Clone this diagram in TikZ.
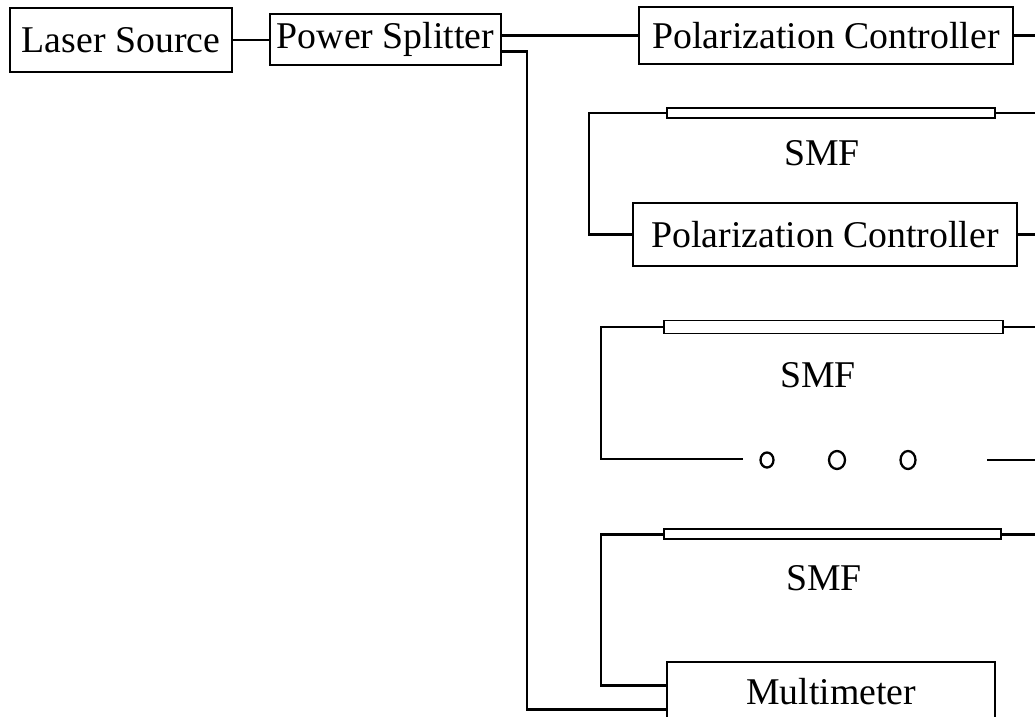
\documentclass[tikz,border=0pt]{standalone}
\usepackage{fontspec}
\setmainfont{Liberation Serif}
\usepackage{tikz}
\usetikzlibrary{positioning, shapes.geometric}

\begin{document}
\begin{tikzpicture}[x=0.02cm, y=-0.02cm,
    box/.style={draw, line width=1.2pt, rectangle, inner sep=0pt,
        font=\fontsize{21.5}{26}\selectfont},
    tube/.style={draw, line width=1.1pt, rectangle, inner sep=0pt},
    lbl/.style={font=\fontsize{21.5}{26}\selectfont},
    fibre/.style={line width=1.7pt},
    dotring/.style={line width=1.3pt}]
    \useasboundingbox (0,0) rectangle (1035,717);
    \clip (0,0) rectangle (1035,717);

    % source side
    \node[box, minimum width=4.44cm, minimum height=1.28cm] (laser) at (121,40) {Laser Source};
    \node[box, minimum width=4.62cm, minimum height=1.02cm] (split) at (385.5,39.5) {Power Splitter};

    % right column
    \node[box, minimum width=7.48cm, minimum height=1.14cm] (pc1) at (826,35.5) {Polarization Controller};
    \node[tube, minimum width=6.56cm, minimum height=0.2cm] (tube1) at (831,113) {};
    \node[lbl] (smf1) at (822,153) {SMF};
    \node[box, minimum width=7.68cm, minimum height=1.26cm] (pc2) at (825,234.5) {Polarization Controller};
    \node[tube, minimum width=6.78cm, minimum height=0.26cm] (tube2) at (833.5,327) {};
    \node[lbl] (smf2) at (818,375) {SMF};
    \node[tube, minimum width=6.74cm, minimum height=0.2cm] (tube3) at (832.5,534) {};
    \node[lbl] (smf3) at (824,578) {SMF};
    \node[box, minimum width=6.56cm, minimum height=1.2cm] (meter) at (831,692) {Multimeter};

    % dots between the stages
    \node[draw, dotring, ellipse, minimum width=0.26cm, minimum height=0.3cm, inner sep=0pt] (dot1) at (767,460) {};
    \node[draw, dotring, ellipse, minimum width=0.32cm, minimum height=0.36cm, inner sep=0pt] (dot2) at (837,460) {};
    \node[draw, dotring, ellipse, minimum width=0.3cm, minimum height=0.36cm, inner sep=0pt] (dot3) at (908,460) {};

    \coordinate (edge) at (1040,0);
    \coordinate (trunk) at (527,400);
    \coordinate (bus1) at (589,0);
    \coordinate (bus) at (601,0);
    \coordinate (gapL) at (743,459);
    \coordinate (gapR) at (987,460);

    % connections
    \draw[fibre] (laser.east) -- (laser.east -| split.west);
    \draw[fibre] (split.east |- pc1.west) -- (pc1.west);
    \draw[fibre] ([yshift=-7pt]split.east) -| (trunk) |- ([yshift=-10pt]meter.west);
    \draw[fibre] (tube1.west) -- (tube1.west -| bus1) |- (pc2.west);
    \draw[fibre] (tube2.west) -- (tube2.west -| bus) |- (gapL);
    \draw[fibre] (tube3.west) -- (tube3.west -| bus) |- ([yshift=3.5pt]meter.west);

    % free ends on the right
    \draw[fibre] (pc1.east) -- (pc1.east -| edge);
    \draw[fibre] (tube1.east) -- (tube1.east -| edge);
    \draw[fibre] (pc2.east) -- (pc2.east -| edge);
    \draw[fibre] (tube2.east) -- (tube2.east -| edge);
    \draw[fibre] (gapR) -- (gapR -| edge);
    \draw[fibre] (tube3.east) -- (tube3.east -| edge);
\end{tikzpicture}
\end{document}
